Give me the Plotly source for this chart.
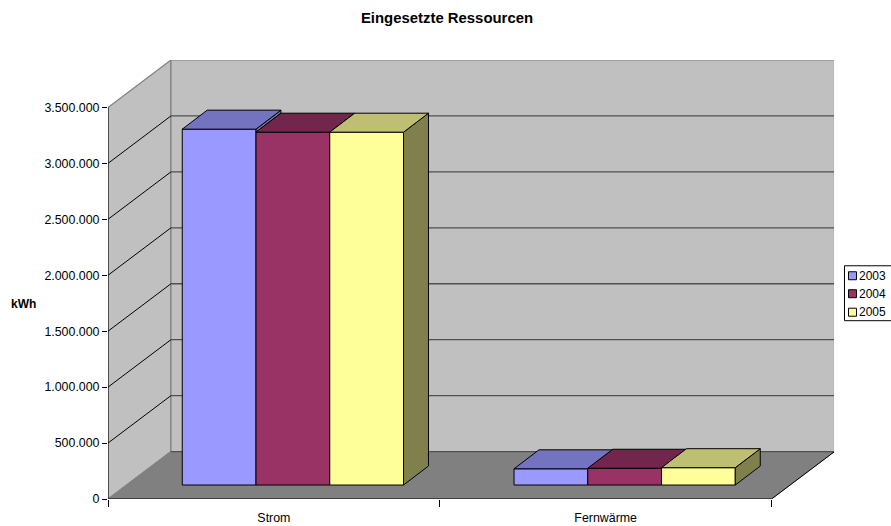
import plotly.graph_objects as go

categories = ["Strom", "Fernwärme"]
years = ["2003", "2004", "2005"]
values_2003 = [3181000, 145000]
values_2004 = [3154000, 150000]
values_2005 = [3154000, 155000]
y_ticks = [0, 500000, 1000000, 1500000, 2000000, 2500000, 3000000, 3500000]
y_tick_labels = ["0", "500.000", "1.000.000", "1.500.000", "2.000.000", "2.500.000", "3.000.000", "3.500.000"]

series = [values_2003, values_2004, values_2005]
front_colors = ["#9999FF", "#993366", "#FFFF99"]
top_colors = ["#7373BF", "#73264D", "#BFBF73"]
side_colors = ["#73739F", "#4D1A33", "#80804D"]

W, H = 891, 526
L, R, T, B = 107.5, 834, 60, 499.5
PX_CAT = 332.0          # px per category
PX_VAL = 392.0 / 3.5e6  # px per value unit


def dx(px):
    return px / PX_CAT


def dy(px):
    return px / PX_VAL


wall_dx, wall_dy = dx(63), dy(47.5)
x_max = (R - L) / PX_CAT
y_max = (B - T) / PX_VAL
bar_w = dx(73.8)
shift_x, base = dx(19), dy(14)
depth_x, depth_y = dx(25), dy(19)

fig = go.Figure()
n_cat = len(categories)
n_ser = len(series)

# front faces: real bars
for s, vals in enumerate(series):
    fig.add_trace(go.Bar(
        x=[c + 0.5 + shift_x + (s - (n_ser - 1) / 2) * bar_w for c in range(n_cat)],
        y=vals, base=[base] * n_cat, width=bar_w, name=years[s],
        marker=dict(color=front_colors[s], line=dict(color="#000000", width=1)),
        showlegend=False,
    ))

# top and side faces
for c in range(n_cat):
    for s, vals in enumerate(series):
        x0 = c + 0.5 + shift_x + (s - n_ser / 2) * bar_w
        x1 = x0 + bar_w
        top = base + vals[c]
        nxt = base + (series[s + 1][c] if s + 1 < n_ser else 0)
        if nxt < top:
            fig.add_trace(go.Scatter(
                x=[x1, x1 + depth_x, x1 + depth_x, x1, x1],
                y=[top, top + depth_y, nxt + depth_y, nxt, top],
                mode="lines", fill="toself", fillcolor=side_colors[s],
                line=dict(color="#000000", width=1), hoverinfo="skip", showlegend=False,
            ))
        fig.add_trace(go.Scatter(
            x=[x0, x0 + depth_x, x1 + depth_x, x1, x0],
            y=[top, top + depth_y, top + depth_y, top, top],
            mode="lines", fill="toself", fillcolor=top_colors[s],
            line=dict(color="#000000", width=1), hoverinfo="skip", showlegend=False,
        ))

# walls and floor
shapes = []


def path(pts):
    return "M " + " L ".join(f"{a},{b}" for a, b in pts) + " Z"


y_top = y_ticks[-1]
shapes.append(dict(type="path", xref="x", yref="y", layer="below", fillcolor="#C0C0C0",
                   line=dict(color="#808080", width=1.2),
                   path=path([(0, 0), (0, y_top), (wall_dx, y_top + wall_dy), (wall_dx, wall_dy)])))
shapes.append(dict(type="path", xref="x", yref="y", layer="below", fillcolor="#C0C0C0",
                   line=dict(color="#808080", width=1.2),
                   path=path([(wall_dx, wall_dy), (wall_dx, y_top + wall_dy), (2 + wall_dx, y_top + wall_dy), (2 + wall_dx, wall_dy)])))
shapes.append(dict(type="path", xref="x", yref="y", layer="below", fillcolor="#808080",
                   line=dict(color="#808080", width=1),
                   path=path([(0, 0), (wall_dx, wall_dy), (2 + wall_dx, wall_dy), (2, 0)])))
for v in y_ticks[1:-1]:
    shapes.append(dict(type="line", xref="x", yref="y", layer="below", x0=0, y0=v,
                       x1=wall_dx, y1=v + wall_dy, line=dict(color="#000000", width=1)))
for v in y_ticks[:-1]:
    shapes.append(dict(type="line", xref="x", yref="y", layer="below", x0=wall_dx, y0=v + wall_dy,
                       x1=2 + wall_dx, y1=v + wall_dy, line=dict(color="#505050", width=1.3)))
shapes.append(dict(type="line", xref="x", yref="y", layer="below", x0=0, y0=0, x1=0, y1=y_top,
                   line=dict(color="#000000", width=1)))
shapes.append(dict(type="line", xref="x", yref="y", layer="below", x0=0, y0=0, x1=2, y1=0,
                   line=dict(color="#000000", width=1)))
shapes.append(dict(type="line", xref="x", yref="y", layer="below", x0=2, y0=0, x1=2 + wall_dx, y1=wall_dy,
                   line=dict(color="#000000", width=1)))

# legend box
lx0, lx1, ly0, ly1 = 844.5, 895, 266, 321
shapes.append(dict(type="rect", xref="paper", yref="paper",
                   x0=(lx0 - L) / (R - L), x1=(lx1 - L) / (R - L),
                   y0=(B - ly1) / (B - T), y1=(B - ly0) / (B - T),
                   fillcolor="#FFFFFF", line=dict(color="#000000", width=1), layer="above"))
annotations = []
rows = [276, 294, 312.5]
for s, yr in enumerate(years):
    yc = rows[s]
    shapes.append(dict(type="rect", xref="paper", yref="paper",
                       x0=(848.5 - L) / (R - L), x1=(856.5 - L) / (R - L),
                       y0=(B - yc - 4) / (B - T), y1=(B - yc + 4) / (B - T),
                       fillcolor=front_colors[s], line=dict(color="#000000", width=1), layer="above"))
    annotations.append(dict(text=yr, xref="paper", yref="paper", x=(857 - L) / (R - L), y=(B - yc) / (B - T),
                            xanchor="left", yanchor="middle", showarrow=False,
                            font=dict(size=12, color="#000000")))

annotations.append(dict(text="<b>kWh</b>", xref="paper", yref="paper", x=(23.3 - L) / (R - L), y=(B - 304) / (B - T),
                        xanchor="center", yanchor="middle", showarrow=False, font=dict(size=12, color="#000000")))

fig.update_layout(
    width=W, height=H, autosize=False,
    margin=dict(l=L, r=W - R, t=T, b=H - B, pad=0),
    paper_bgcolor="#FFFFFF", plot_bgcolor="rgba(0,0,0,0)",
    barmode="overlay", showlegend=False,
    font=dict(family="Liberation Sans, Arial, sans-serif", size=12.4, color="#000000"),
    title=dict(text="<b>Eingesetzte Ressourcen</b>", x=447 / W, xanchor="center", y=1 - 17.3 / H, yanchor="middle",
               font=dict(size=14.9, color="#000000")),
    shapes=shapes, annotations=annotations,
    xaxis=dict(range=[0, x_max], tickvals=[c + 0.5 for c in range(n_cat)], ticktext=categories,
               ticks="outside", ticklen=7, tickcolor="rgba(0,0,0,0)", showgrid=False, zeroline=False,
               showline=False, tickangle=0, automargin=False,
               minor=dict(tickvals=list(range(n_cat + 1)), ticks="outside", ticklen=7, tickcolor="#000000",
                          tickwidth=1, showgrid=False)),
    yaxis=dict(range=[0, y_max], tickvals=y_ticks, ticktext=y_tick_labels, ticks="outside", ticklen=5,
               tickcolor="#000000", showgrid=False, zeroline=False, showline=False, automargin=False),
)

fig.write_html("out.html", config=dict(displayModeBar=False),
               post_script="document.body.style.margin='0';document.body.style.overflow='hidden';")
